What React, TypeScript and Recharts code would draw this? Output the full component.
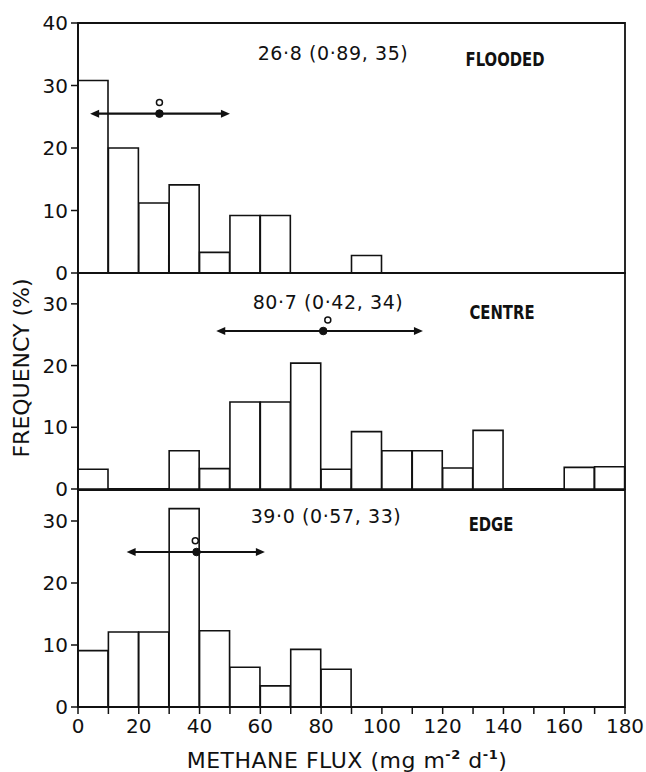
import {
  ComposedChart,
  Bar,
  XAxis,
  YAxis,
  ReferenceArea,
  ReferenceLine,
  ReferenceDot,
} from "recharts";

// bin centres of the 10-unit flux classes (mg m-2 d-1)
const BIN_MIDS = [5, 15, 25, 35, 45, 55, 65, 75, 85, 95, 105, 115, 125, 135, 145, 155, 165, 175];

// frequency (%) per bin
const FLOODED = [30.8, 20.0, 11.2, 14.1, 3.3, 9.2, 9.2, 0, 0, 2.8, 0, 0, 0, 0, 0, 0, 0, 0];
const CENTRE = [3.2, 0, 0, 6.2, 3.3, 14.1, 14.1, 20.4, 3.2, 9.3, 6.2, 6.2, 3.4, 9.5, 0, 0, 3.5, 3.6];
const EDGE = [9.1, 12.1, 12.1, 32.0, 12.3, 6.4, 3.4, 9.3, 6.1, 0, 0, 0, 0, 0, 0, 0, 0, 0];

const X_TICKS = [0, 10, 20, 30, 40, 50, 60, 70, 80, 90, 100, 110, 120, 130, 140, 150, 160, 170, 180];

// mean marker, spread arrow and the open circle above it
const MEANS = [26.8, 80.7, 39.0];
const ARROW_FROM = [4, 45.5, 16];
const ARROW_TO = [50, 113.5, 61.5];
const ARROW_Y = [25.5, 25.6, 25.0];
const CIRCLE_X = [26.8, 82.2, 38.6];
const CIRCLE_Y = [27.3, 27.4, 26.8];

const STATS = ["26·8 (0·89, 35)", "80·7 (0·42, 34)", "39·0 (0·57, 33)"];
const NAMES = ["FLOODED", "CENTRE", "EDGE"];
const Y_MAX = [40, 35, 35];
const Y_TICKS = [
  [0, 10, 20, 30, 40],
  [0, 10, 20, 30],
  [0, 10, 20, 30],
];
const SERIES = [FLOODED, CENTRE, EDGE];

// layout in page pixels
const W = 646;
const H = 772;
const LEFT = 78;
const RIGHT = 625;
const Y_AXIS_W = 60;
const X_AXIS_H = 40;
const PANELS = [
  { top: 23, bottom: 273, stat: [333, 53], name: [505, 59] },
  { top: 273, bottom: 489, stat: [328, 302], name: [502, 312] },
  { top: 490, bottom: 707, stat: [326, 516], name: [491, 524] },
];

const FONT = "'DejaVu Sans', sans-serif";
const INK = "#111";

function Arrow(props: any) {
  const { x1, y1, x2, y2 } = props;
  const h = 9;
  const w = 4;
  return (
    <g>
      <line x1={x1 + h - 1} y1={y1} x2={x2 - h + 1} y2={y2} stroke={INK} strokeWidth={2.2} />
      <polygon points={`${x1},${y1} ${x1 + h},${y1 - w} ${x1 + h},${y1 + w}`} fill={INK} />
      <polygon points={`${x2},${y2} ${x2 - h},${y2 - w} ${x2 - h},${y2 + w}`} fill={INK} />
    </g>
  );
}

function Panel({ i }: { i: number }) {
  const p = PANELS[i];
  const data = BIN_MIDS.map((x, k) => ({ x, v: SERIES[i][k] }));
  const isLast = i === PANELS.length - 1;
  return (
    <div style={{ position: "absolute", left: 0, top: 0 }}>
      <ComposedChart
        width={W}
        height={H}
        data={data}
        barCategoryGap={0}
        barGap={0}
        margin={{
          top: p.top,
          bottom: H - p.bottom - (isLast ? X_AXIS_H : 0),
          left: LEFT - Y_AXIS_W,
          right: W - RIGHT,
        }}
        style={{ fontFamily: FONT }}
      >
        <XAxis
          dataKey="x"
          type="number"
          domain={[0, 180]}
          ticks={X_TICKS}
          interval={0}
          hide={!isLast}
          height={X_AXIS_H}
          tickFormatter={(v: number) => (v % 20 === 0 ? String(v) : "")}
          tick={{ fill: INK, fontSize: 20 }}
          tickSize={7}
          tickMargin={5}
          axisLine={{ stroke: INK, strokeWidth: 1.8 }}
          tickLine={{ stroke: INK, strokeWidth: 1.5 }}
        />
        <YAxis
          type="number"
          domain={[0, Y_MAX[i]]}
          ticks={Y_TICKS[i]}
          interval={0}
          width={Y_AXIS_W}
          allowDataOverflow
          tick={{ fill: INK, fontSize: 20 }}
          tickSize={7}
          tickMargin={3}
          axisLine={{ stroke: INK, strokeWidth: 1.8 }}
          tickLine={{ stroke: INK, strokeWidth: 1.5 }}
        />
        <ReferenceArea
          x1={0}
          x2={180}
          y1={0}
          y2={Y_MAX[i]}
          fill="none"
          fillOpacity={0}
          stroke={INK}
          strokeWidth={1.8}
        />
        <Bar
          dataKey="v"
          fill="#fff"
          stroke={INK}
          strokeWidth={1.6}
          isAnimationActive={false}
        />
        <ReferenceLine
          segment={[
            { x: ARROW_FROM[i], y: ARROW_Y[i] },
            { x: ARROW_TO[i], y: ARROW_Y[i] },
          ]}
          shape={Arrow}
        />
        <ReferenceDot x={MEANS[i]} y={ARROW_Y[i]} r={3.8} fill={INK} stroke={INK} />
        <ReferenceDot
          x={CIRCLE_X[i]}
          y={CIRCLE_Y[i]}
          r={3}
          fill="#fff"
          stroke={INK}
          strokeWidth={1.5}
        />
      </ComposedChart>
    </div>
  );
}

const centred = (x: number, y: number): React.CSSProperties => ({
  position: "absolute",
  left: x,
  top: y,
  transform: "translate(-50%, -50%)",
  whiteSpace: "nowrap",
  fontFamily: FONT,
  color: INK,
  lineHeight: 1,
});

export default function App() {
  return (
    <div
      style={{
        position: "absolute",
        left: 0,
        top: 0,
        width: W,
        height: H,
        background: "#fff",
        overflow: "hidden",
      }}
    >
      {PANELS.map((_, i) => (
        <Panel key={NAMES[i]} i={i} />
      ))}
      {PANELS.map((p, i) => (
        <div key={"s" + i} style={{ ...centred(p.stat[0], p.stat[1]), fontSize: 19, letterSpacing: 0.6 }}>
          {STATS[i]}
        </div>
      ))}
      {PANELS.map((p, i) => (
        <div
          key={"n" + i}
          style={{
            ...centred(p.name[0], p.name[1]),
            fontSize: 19,
            fontWeight: "bold",
            transform: "translate(-50%, -50%) scaleX(0.78)",
          }}
        >
          {NAMES[i]}
        </div>
      ))}
      <div
        style={{
          ...centred(22, 368),
          fontSize: 22,
          transform: "translate(-50%, -50%) rotate(-90deg)",
        }}
      >
        FREQUENCY (%)
      </div>
      <div style={{ ...centred(347, 760), fontSize: 22, letterSpacing: 0.5 }}>
        METHANE FLUX (mg m
        <span style={{ fontSize: 13, fontWeight: "bold", verticalAlign: "9px" }}>-2</span> d
        <span style={{ fontSize: 13, fontWeight: "bold", verticalAlign: "9px" }}>-1</span>)
      </div>
    </div>
  );
}
